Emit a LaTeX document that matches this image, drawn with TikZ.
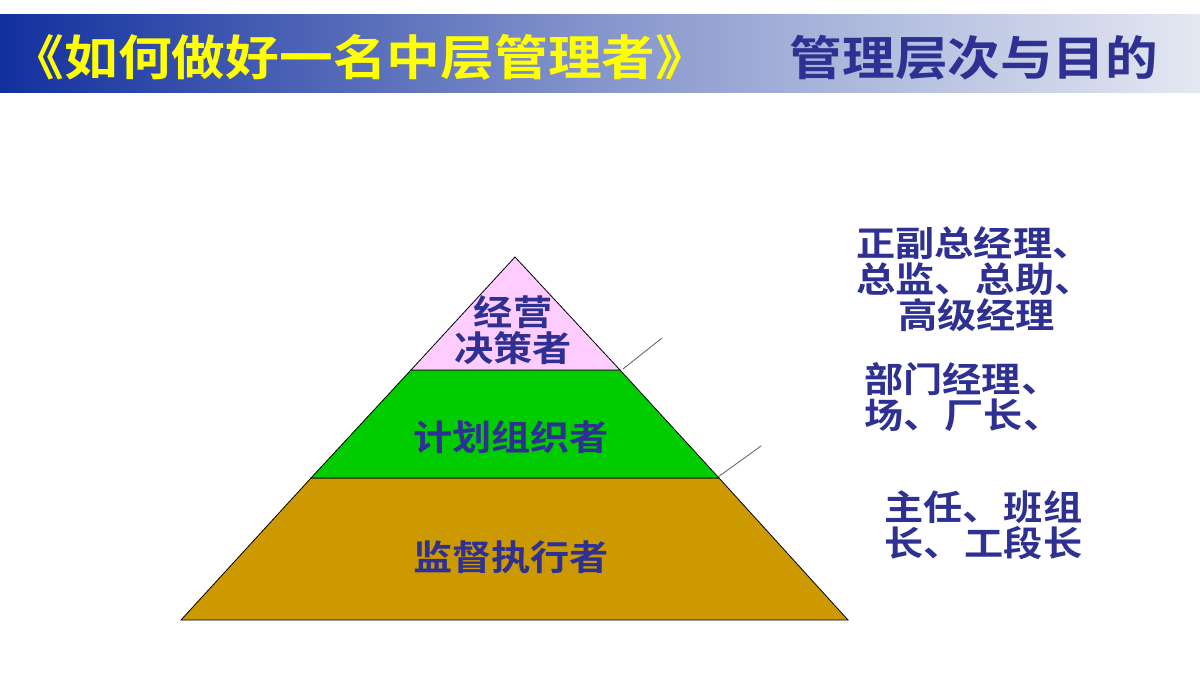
\documentclass[tikz,border=0pt]{standalone}
\usepackage{fontspec}
\newfontfamily\cjk{Noto Sans CJK SC}[BoldFont={* Bold}, FakeStretch=1.12]
\definecolor{hdrL}{RGB}{18,48,158}
\definecolor{hdrR}{RGB}{228,232,242}
\definecolor{titleY}{RGB}{255,255,0}
\definecolor{ink}{RGB}{46,49,146}
\definecolor{pinkL}{RGB}{255,204,255}
\definecolor{greenL}{RGB}{0,204,0}
\definecolor{goldL}{RGB}{204,153,0}
\tikzset{
  lvl/.style={draw=black, line width=0.8pt, line join=miter},
  lbl/.style={font=\cjk\bfseries\fontsize{35}{36}\selectfont, text=ink, align=center, inner sep=0pt},
  side/.style={font=\cjk\bfseries\fontsize{35}{36}\selectfont, text=ink, align=left, inner sep=0pt},
  lead/.style={draw=gray!85!black, line width=0.9pt},
}
\newcommand{\gapsp}{\hspace{2pt}}
\begin{document}
\begin{tikzpicture}[x=1pt,y=-1pt]
\useasboundingbox (0,0) rectangle (1200,680);
\fill[white] (0,0) rectangle (1200,680);
% header band
\shade[left color=hdrL, right color=hdrR, middle color=hdrL!45!hdrR] (0,14) rectangle (1200,92);
\node[font=\cjk\bfseries\fontsize{48}{50}\selectfont, text=titleY, inner sep=0pt] (title) at (360,57) {《如何做好一名中层管理者》};
\node[font=\cjk\bfseries\fontsize{47}{50}\selectfont, text=ink, inner sep=0pt] (sub) at (974,58) {管理层次与目的};
% pyramid coordinates
\coordinate (apex) at (515,257);
\coordinate (l1) at (411,370); \coordinate (r1) at (620,370);
\coordinate (l2) at (311,478); \coordinate (r2) at (719,478);
\coordinate (bl) at (181,620); \coordinate (br) at (848,620);
\fill[goldL] (l2) -- (r2) -- (br) -- (bl) -- cycle;
\draw[lvl] (l2) -- (r2) -- (br) -- (bl) -- cycle;
\fill[greenL] (l1) -- (r1) -- (r2) -- (l2) -- cycle;
\draw[lvl] (l1) -- (r1) -- (r2) -- (l2) -- cycle;
\fill[pinkL] (apex) -- (r1) -- (l1) -- cycle;
\draw[lvl] (apex) -- (r1) -- (l1) -- cycle;
% level labels
\node[lbl] (top) at (513,330) {经营\\决策者};
\node[lbl] (mid) at (511,437) {计划组织者};
\node[lbl] (low) at (511,557) {监督执行者};
% side labels
\node[side, anchor=north west] (s1) at (856,226) {正副总经理、\\总监、\gapsp 总助、\\\hspace{42pt}高级经理};
\node[side, anchor=north west] (s2) at (864,362) {部门经理、\\场、\gapsp 厂长、};
\node[side, anchor=north west] (s3) at (884,490) {主任、\gapsp 班组\\长、\gapsp 工段长};
% leader lines
\coordinate (e1) at (662,338);
\coordinate (e2) at (761,446);
\coordinate (p1) at (623,369);
\coordinate (p2) at (718,477);
\draw[lead] (p1) -- (e1);
\draw[lead] (p2) -- (e2);
\end{tikzpicture}
\end{document}
